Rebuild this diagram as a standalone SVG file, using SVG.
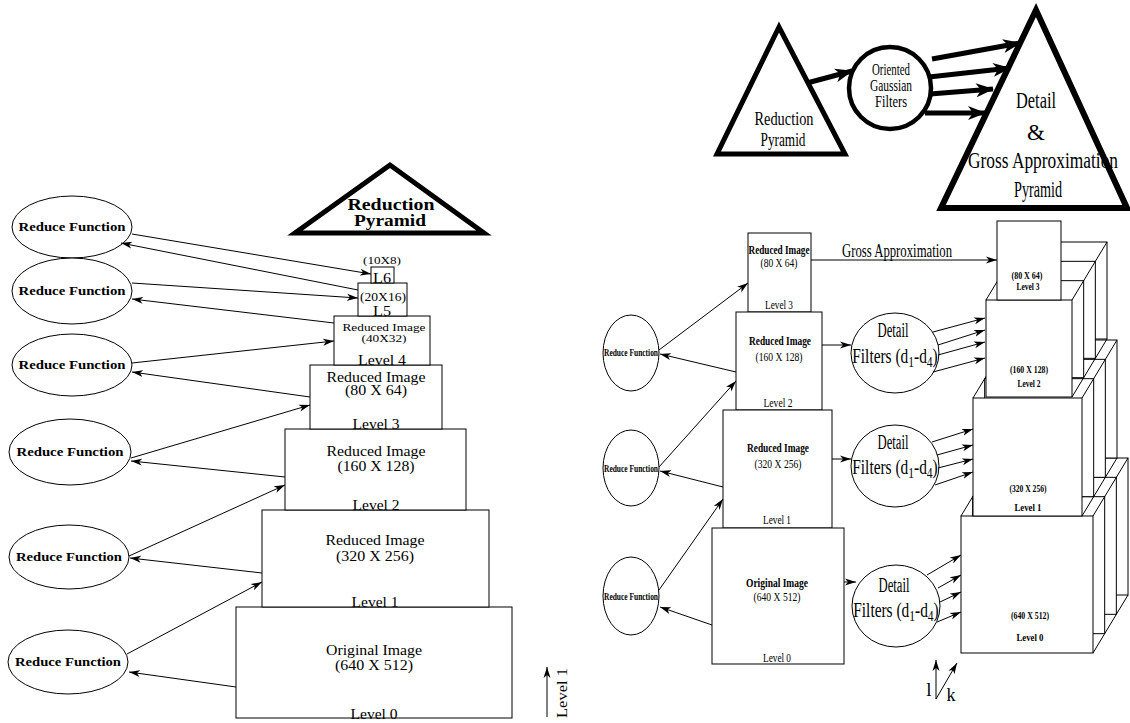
<svg xmlns="http://www.w3.org/2000/svg" width="1130" height="723" viewBox="0 0 1130 723">
<style>
 .ln{stroke:#000;stroke-width:1;fill:none}
 .bx{stroke:#000;stroke-width:1;fill:#fff}
 .tk{stroke:#000;stroke-width:5;fill:#fff;stroke-linejoin:miter}
 .ta{stroke:#000;stroke-width:5;fill:none}
 text{font-family:"Liberation Serif","Times New Roman",serif;fill:#000}
 .c{text-anchor:middle}
 .b{font-weight:bold}
</style>
<defs>
 <marker id="a" markerUnits="userSpaceOnUse" markerWidth="12" markerHeight="8" refX="11" refY="4" orient="auto"><path d="M0,0.5 L11,4 L0,7.5 L3,4 z" fill="#000"/></marker>
 <marker id="A" markerUnits="userSpaceOnUse" markerWidth="19" markerHeight="14" refX="17" refY="7" orient="auto"><path d="M0,0 L18,7 L0,14 L5,7 z" fill="#000"/></marker>
</defs>
<rect width="1130" height="723" fill="#fff"/>

<!-- LEFT: reduction pyramid -->
<g id="left-title">
 <polygon points="390,165 295,233 484,233" class="tk"/>
 <text x="391" y="210" class="c b" font-size="16" textLength="87" lengthAdjust="spacingAndGlyphs">Reduction</text>
 <text x="390" y="226" class="c b" font-size="16" textLength="72" lengthAdjust="spacingAndGlyphs">Pyramid</text>
</g>
<g id="L0"><rect x="236" y="607" width="276" height="111" class="bx"/>
 <text x="374" y="655" class="c" font-size="14" textLength="96" lengthAdjust="spacingAndGlyphs">Original Image</text>
 <text x="374" y="670" class="c" font-size="14" textLength="78" lengthAdjust="spacingAndGlyphs">(640 X 512)</text>
 <text x="374" y="719" class="c" font-size="14" textLength="47" lengthAdjust="spacingAndGlyphs">Level 0</text></g>
<g id="L1"><rect x="262" y="510" width="227" height="97" class="bx"/>
 <text x="375" y="545" class="c" font-size="14" textLength="99" lengthAdjust="spacingAndGlyphs">Reduced Image</text>
 <text x="375" y="561" class="c" font-size="14" textLength="78" lengthAdjust="spacingAndGlyphs">(320 X 256)</text>
 <text x="375" y="607" class="c" font-size="14" textLength="47" lengthAdjust="spacingAndGlyphs">Level 1</text></g>
<g id="L2"><rect x="285" y="429" width="181" height="81" class="bx"/>
 <text x="376" y="456" class="c" font-size="14" textLength="99" lengthAdjust="spacingAndGlyphs">Reduced Image</text>
 <text x="376" y="471" class="c" font-size="14" textLength="77" lengthAdjust="spacingAndGlyphs">(160 X 128)</text>
 <text x="376" y="510" class="c" font-size="14" textLength="47" lengthAdjust="spacingAndGlyphs">Level 2</text></g>
<g id="L3"><rect x="310" y="365" width="132" height="64" class="bx"/>
 <text x="376" y="382" class="c" font-size="14" textLength="99" lengthAdjust="spacingAndGlyphs">Reduced Image</text>
 <text x="376" y="395" class="c" font-size="14" textLength="62" lengthAdjust="spacingAndGlyphs">(80 X 64)</text>
 <text x="376" y="429" class="c" font-size="14" textLength="47" lengthAdjust="spacingAndGlyphs">Level 3</text></g>
<g id="L4"><rect x="334" y="316" width="96" height="49" class="bx"/>
 <text x="384" y="331" class="c" font-size="11" textLength="83" lengthAdjust="spacingAndGlyphs">Reduced Image</text>
 <text x="384" y="342" class="c" font-size="11" textLength="45" lengthAdjust="spacingAndGlyphs">(40X32)</text>
 <text x="382" y="365" class="c" font-size="14" textLength="48" lengthAdjust="spacingAndGlyphs">Level 4</text></g>
<g id="L5"><rect x="358" y="283" width="49" height="33" class="bx"/>
 <text x="383" y="301" class="c" font-size="12" textLength="46" lengthAdjust="spacingAndGlyphs">(20X16)</text>
 <text x="382" y="316" class="c" font-size="14" textLength="18" lengthAdjust="spacingAndGlyphs">L5</text></g>
<g id="L6"><rect x="371" y="267" width="23" height="16" class="bx"/>
 <text x="382" y="264" class="c" font-size="11" textLength="38" lengthAdjust="spacingAndGlyphs">(10X8)</text>
 <text x="382" y="283" class="c" font-size="14" textLength="18" lengthAdjust="spacingAndGlyphs">L6</text></g>

<g id="E1"><ellipse cx="72" cy="227" rx="60" ry="31" class="bx"/><text x="72" y="231" class="c b" font-size="13" textLength="107" lengthAdjust="spacingAndGlyphs">Reduce Function</text></g>
<g id="E2"><ellipse cx="72" cy="291" rx="60" ry="33" class="bx"/><text x="72" y="295" class="c b" font-size="13" textLength="107" lengthAdjust="spacingAndGlyphs">Reduce Function</text></g>
<g id="E3"><ellipse cx="72" cy="365" rx="60" ry="31" class="bx"/><text x="72" y="369" class="c b" font-size="13" textLength="107" lengthAdjust="spacingAndGlyphs">Reduce Function</text></g>
<g id="E4"><ellipse cx="70" cy="452" rx="61" ry="33" class="bx"/><text x="70" y="456" class="c b" font-size="13" textLength="107" lengthAdjust="spacingAndGlyphs">Reduce Function</text></g>
<g id="E5"><ellipse cx="69" cy="557" rx="60" ry="32" class="bx"/><text x="69" y="561" class="c b" font-size="13" textLength="106" lengthAdjust="spacingAndGlyphs">Reduce Function</text></g>
<g id="E6"><ellipse cx="68" cy="662" rx="60" ry="32" class="bx"/><text x="68" y="666" class="c b" font-size="13" textLength="106" lengthAdjust="spacingAndGlyphs">Reduce Function</text></g>

<g id="level-axis">
 <line x1="547" y1="717" x2="547" y2="667" class="ln" marker-end="url(#a)"/>
 <text x="567" y="718" font-size="15" transform="rotate(-90 567 718)" textLength="50" lengthAdjust="spacingAndGlyphs">Level 1</text>
</g>

<!-- RIGHT: top schematic -->
<g id="rt-tri1">
 <polygon points="779,27 717,154 845,154" class="tk"/>
 <text x="784" y="125" class="c" font-size="19" textLength="59" lengthAdjust="spacingAndGlyphs">Reduction</text>
 <text x="783" y="146" class="c" font-size="19" textLength="45" lengthAdjust="spacingAndGlyphs">Pyramid</text>
</g>
<g id="rt-circle">
 <circle cx="890" cy="88" r="41" stroke="#000" stroke-width="4.5" fill="#fff"/>
 <text x="891" y="75" class="c" font-size="16" textLength="38" lengthAdjust="spacingAndGlyphs">Oriented</text>
 <text x="891" y="91" class="c" font-size="16" textLength="42" lengthAdjust="spacingAndGlyphs">Gaussian</text>
 <text x="891" y="107" class="c" font-size="16" textLength="32" lengthAdjust="spacingAndGlyphs">Filters</text>
</g>
<g id="rt-tri2">
 <polygon points="1036,10 941,208 1127,208" stroke="#000" stroke-width="6" fill="#fff"/>
 <text x="1036" y="108" class="c" font-size="23" textLength="40" lengthAdjust="spacingAndGlyphs">Detail</text>
 <text x="1036" y="140" class="c" font-size="23">&amp;</text>
 <text x="1043" y="168" class="c" font-size="23" textLength="150" lengthAdjust="spacingAndGlyphs">Gross Approximation</text>
 <text x="1038" y="197" class="c" font-size="23" textLength="48" lengthAdjust="spacingAndGlyphs">Pyramid</text>
</g>
<g id="rt-arrows">
 <line x1="807" y1="83" x2="852" y2="71" class="ta" marker-end="url(#A)"/>
 <line x1="932" y1="59" x2="1020" y2="43" class="ta" marker-end="url(#A)"/>
 <line x1="929" y1="77" x2="1010" y2="68" class="ta" marker-end="url(#A)"/>
 <line x1="930" y1="94" x2="993" y2="89" class="ta" marker-end="url(#A)"/>
 <line x1="925" y1="113" x2="985" y2="113" class="ta" marker-end="url(#A)"/>
</g>

<!-- RIGHT: reduction column -->
<g id="R3"><rect x="748" y="233" width="63" height="79" class="bx"/>
 <text x="779" y="254" class="c b" font-size="13" textLength="61" lengthAdjust="spacingAndGlyphs">Reduced Image</text>
 <text x="779" y="267" class="c" font-size="13" textLength="37" lengthAdjust="spacingAndGlyphs">(80 X 64)</text>
 <text x="779" y="309" class="c" font-size="13" textLength="28" lengthAdjust="spacingAndGlyphs">Level 3</text></g>
<g id="R2"><rect x="736" y="312" width="86" height="98" class="bx"/>
 <text x="780" y="345" class="c b" font-size="13" textLength="62" lengthAdjust="spacingAndGlyphs">Reduced Image</text>
 <text x="779" y="361" class="c" font-size="13" textLength="47" lengthAdjust="spacingAndGlyphs">(160 X 128)</text>
 <text x="778" y="407" class="c" font-size="13" textLength="29" lengthAdjust="spacingAndGlyphs">Level 2</text></g>
<g id="R1"><rect x="723" y="410" width="109" height="118" class="bx"/>
 <text x="778" y="452" class="c b" font-size="13" textLength="62" lengthAdjust="spacingAndGlyphs">Reduced Image</text>
 <text x="778" y="468" class="c" font-size="13" textLength="47" lengthAdjust="spacingAndGlyphs">(320 X 256)</text>
 <text x="777" y="524" class="c" font-size="13" textLength="28" lengthAdjust="spacingAndGlyphs">Level 1</text></g>
<g id="R0"><rect x="712" y="528" width="132" height="136" class="bx"/>
 <text x="777" y="587" class="c b" font-size="13" textLength="62" lengthAdjust="spacingAndGlyphs">Original Image</text>
 <text x="777" y="601" class="c" font-size="13" textLength="47" lengthAdjust="spacingAndGlyphs">(640 X 512)</text>
 <text x="777" y="662" class="c" font-size="13" textLength="28" lengthAdjust="spacingAndGlyphs">Level 0</text></g>

<g id="RE3"><ellipse cx="631" cy="353" rx="28" ry="38" class="bx"/><text x="631" y="356" class="c b" font-size="10" textLength="54" lengthAdjust="spacingAndGlyphs">Reduce Function</text></g>
<g id="RE2"><ellipse cx="631" cy="468" rx="28" ry="38" class="bx"/><text x="631" y="472" class="c b" font-size="10" textLength="54" lengthAdjust="spacingAndGlyphs">Reduce Function</text></g>
<g id="RE1"><ellipse cx="631" cy="596" rx="28" ry="39" class="bx"/><text x="631" y="600" class="c b" font-size="10" textLength="54" lengthAdjust="spacingAndGlyphs">Reduce Function</text></g>

<g id="DF2"><ellipse cx="895" cy="353" rx="44" ry="40" class="bx"/>
 <text x="893" y="337" class="c" font-size="20" textLength="31" lengthAdjust="spacingAndGlyphs">Detail</text>
 <text transform="translate(895,363) scale(0.77,1)" class="c" font-size="20">Filters (d<tspan dy="4" font-size="15">1</tspan><tspan dy="-4">-d</tspan><tspan dy="4" font-size="15">4</tspan><tspan dy="-4">)</tspan></text></g>
<g id="DF1"><ellipse cx="895" cy="466" rx="44" ry="41" class="bx"/>
 <text x="893" y="449" class="c" font-size="20" textLength="31" lengthAdjust="spacingAndGlyphs">Detail</text>
 <text transform="translate(895,474) scale(0.77,1)" class="c" font-size="20">Filters (d<tspan dy="4" font-size="15">1</tspan><tspan dy="-4">-d</tspan><tspan dy="4" font-size="15">4</tspan><tspan dy="-4">)</tspan></text></g>
<g id="DF0"><ellipse cx="896" cy="606" rx="44" ry="41" class="bx"/>
 <text x="894" y="592" class="c" font-size="20" textLength="31" lengthAdjust="spacingAndGlyphs">Detail</text>
 <text transform="translate(896,617) scale(0.77,1)" class="c" font-size="20">Filters (d<tspan dy="4" font-size="15">1</tspan><tspan dy="-4">-d</tspan><tspan dy="4" font-size="15">4</tspan><tspan dy="-4">)</tspan></text></g>

<!-- RIGHT: output cubes (painter order bottom to top) -->
<g id="C0">
 <rect x="996" y="458" width="132" height="137" class="bx"/>
 <rect x="984.33" y="477.33" width="132" height="137" class="bx"/>
 <rect x="972.67" y="496.67" width="132" height="137" class="bx"/>
 <rect x="961" y="516" width="132" height="137" class="bx"/>
 <path d="M961,516 L996,458 M1093,516 L1128,458 M1093,653 L1128,595" class="ln"/>
 <text x="1030" y="619" class="c b" font-size="11" textLength="38" lengthAdjust="spacingAndGlyphs">(640 X 512)</text>
 <text x="1030" y="641" class="c b" font-size="11" textLength="27" lengthAdjust="spacingAndGlyphs">Level 0</text>
</g>
<g id="C1">
 <rect x="1008" y="340" width="109" height="118" class="bx"/>
 <rect x="996.33" y="359.33" width="109" height="118" class="bx"/>
 <rect x="984.67" y="378.67" width="109" height="118" class="bx"/>
 <rect x="973" y="398" width="109" height="118" class="bx"/>
 <path d="M973,398 L1008,340 M1082,398 L1117,340 M1082,516 L1117,458" class="ln"/>
 <text x="1028" y="492" class="c b" font-size="11" textLength="37" lengthAdjust="spacingAndGlyphs">(320 X 256)</text>
 <text x="1028" y="511" class="c b" font-size="11" textLength="27" lengthAdjust="spacingAndGlyphs">Level 1</text>
</g>
<g id="C2">
 <rect x="1021" y="242" width="86" height="97" class="bx"/>
 <rect x="1009.33" y="261.33" width="86" height="97" class="bx"/>
 <rect x="997.67" y="280.67" width="86" height="97" class="bx"/>
 <rect x="986" y="300" width="86" height="97" class="bx"/>
 <path d="M986,300 L1021,242 M1072,300 L1107,242 M1072,397 L1107,339" class="ln"/>
 <text x="1029" y="373" class="c b" font-size="11" textLength="38" lengthAdjust="spacingAndGlyphs">(160 X 128)</text>
 <text x="1029" y="387" class="c b" font-size="11" textLength="23" lengthAdjust="spacingAndGlyphs">Level 2</text>
</g>
<g id="C3">
 <rect x="997" y="221" width="64" height="79" class="bx"/>
 <text x="1027" y="279" class="c b" font-size="11" textLength="31" lengthAdjust="spacingAndGlyphs">(80 X 64)</text>
 <text x="1028" y="290" class="c b" font-size="11" textLength="23" lengthAdjust="spacingAndGlyphs">Level 3</text>
</g>

<g id="axes">
 <line x1="936" y1="699" x2="936" y2="660" class="ln" marker-end="url(#a)"/>
 <line x1="936" y1="699" x2="957" y2="663" class="ln" marker-end="url(#a)"/>
 <text x="929" y="696" class="c" font-size="19">l</text>
 <text x="951" y="701" class="c" font-size="18">k</text>
</g>

<g id="connectors" class="ln">
 <line x1="132" y1="234" x2="371" y2="274" marker-end="url(#a)"/>
 <line x1="358" y1="290" x2="121" y2="243" marker-end="url(#a)"/>
 <line x1="132" y1="283" x2="358" y2="298" marker-end="url(#a)"/>
 <line x1="334" y1="323" x2="132" y2="299" marker-end="url(#a)"/>
 <line x1="132" y1="363" x2="334" y2="341" marker-end="url(#a)"/>
 <line x1="310" y1="397" x2="132" y2="372" marker-end="url(#a)"/>
 <line x1="131" y1="458" x2="310" y2="405" marker-end="url(#a)"/>
 <line x1="285" y1="477" x2="131" y2="461" marker-end="url(#a)"/>
 <line x1="129" y1="556" x2="285" y2="485" marker-end="url(#a)"/>
 <line x1="262" y1="573" x2="130" y2="558" marker-end="url(#a)"/>
 <line x1="127" y1="654" x2="262" y2="582" marker-end="url(#a)"/>
 <line x1="236" y1="687" x2="129" y2="672" marker-end="url(#a)"/>

 <line x1="659" y1="350" x2="748" y2="283" marker-end="url(#a)"/>
 <line x1="736" y1="372" x2="660" y2="354" marker-end="url(#a)"/>
 <line x1="659" y1="467" x2="736" y2="381" marker-end="url(#a)"/>
 <line x1="723" y1="487" x2="660" y2="471" marker-end="url(#a)"/>
 <line x1="659" y1="590" x2="723" y2="499" marker-end="url(#a)"/>
 <line x1="712" y1="625" x2="660" y2="607" marker-end="url(#a)"/>
 <line x1="822" y1="345" x2="851" y2="345" marker-end="url(#a)"/>
 <line x1="832" y1="459" x2="851" y2="459" marker-end="url(#a)"/>
 <line x1="844" y1="582" x2="856" y2="582" marker-end="url(#a)"/>
 <line x1="811" y1="260" x2="997" y2="260" marker-end="url(#a)"/>
 <text x="897" y="257" class="c" font-size="18" textLength="110" lengthAdjust="spacingAndGlyphs" stroke="none">Gross Approximation</text>

 <line x1="933" y1="332" x2="985" y2="318" marker-end="url(#a)"/>
 <line x1="938" y1="345" x2="985" y2="330" marker-end="url(#a)"/>
 <line x1="938" y1="355" x2="985" y2="342" marker-end="url(#a)"/>
 <line x1="933" y1="372" x2="985" y2="358" marker-end="url(#a)"/>
 <line x1="932" y1="442" x2="973" y2="429" marker-end="url(#a)"/>
 <line x1="937" y1="455" x2="973" y2="445" marker-end="url(#a)"/>
 <line x1="938" y1="468" x2="973" y2="459" marker-end="url(#a)"/>
 <line x1="935" y1="485" x2="973" y2="472" marker-end="url(#a)"/>
 <line x1="927" y1="575" x2="961" y2="555" marker-end="url(#a)"/>
 <line x1="938" y1="588" x2="961" y2="575" marker-end="url(#a)"/>
 <line x1="940" y1="602" x2="961" y2="592" marker-end="url(#a)"/>
 <line x1="937" y1="622" x2="961" y2="612" marker-end="url(#a)"/>
</g>
</svg>
